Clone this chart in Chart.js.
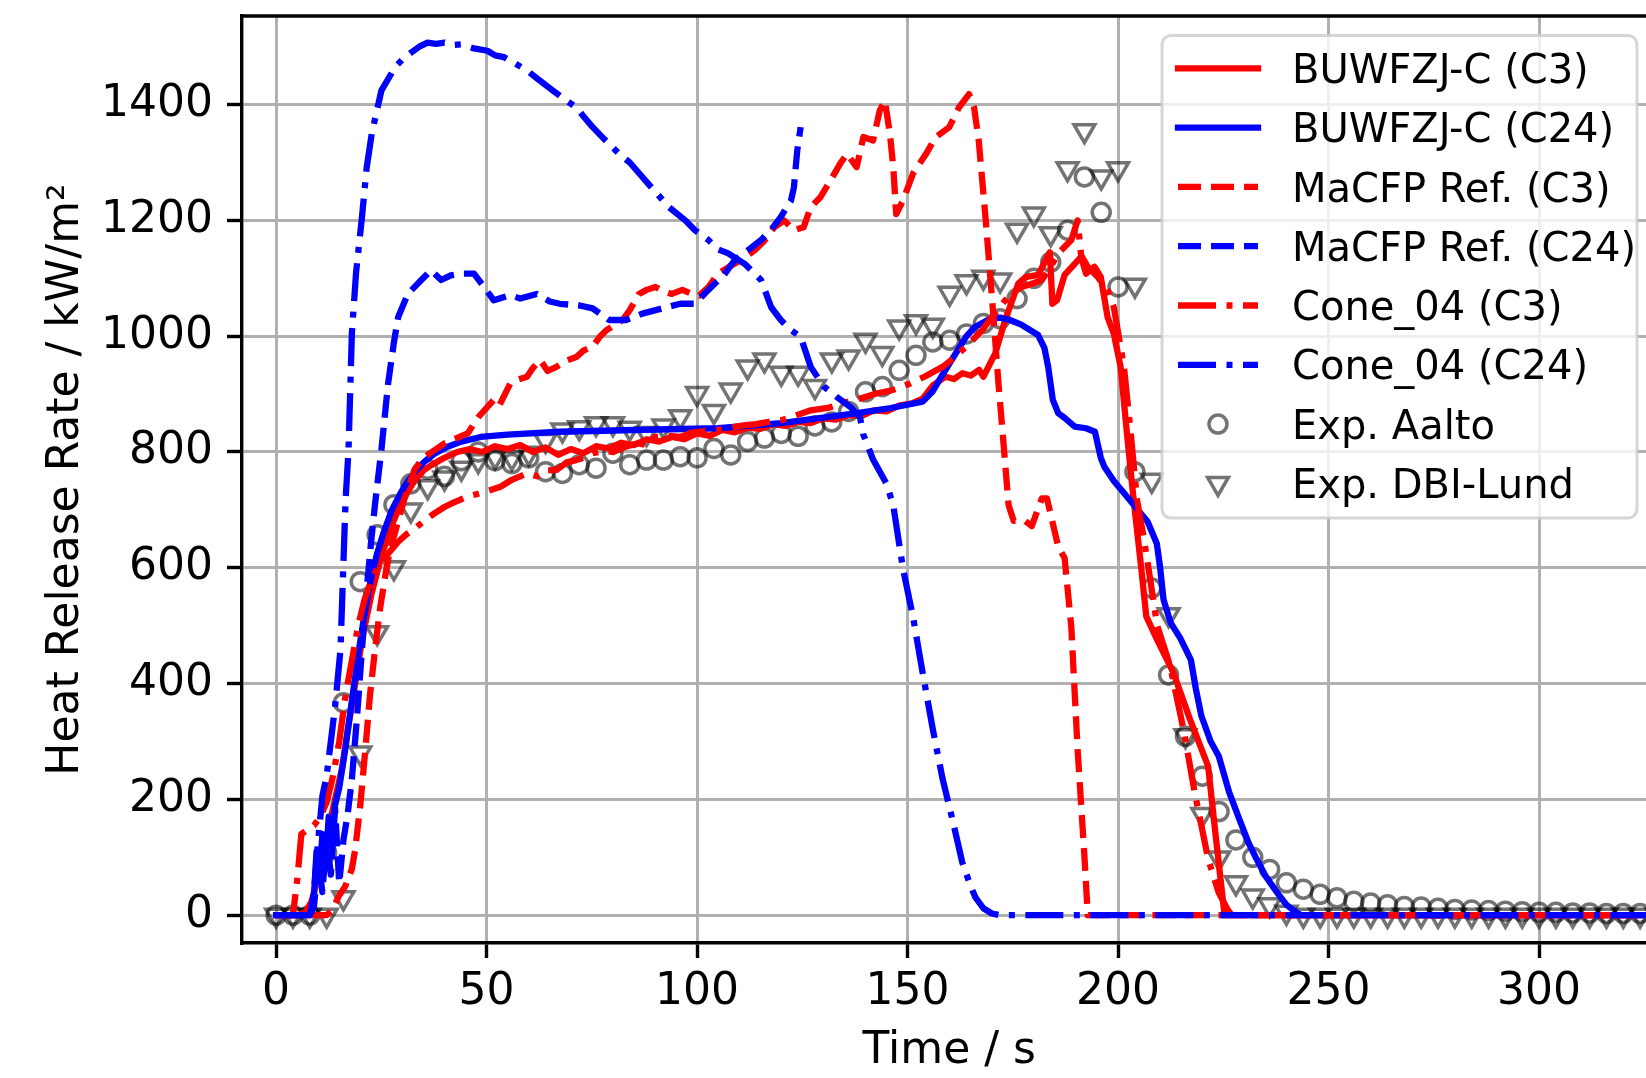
<!DOCTYPE html>
<html>
<head>
<meta charset="utf-8">
<title>Heat Release Rate</title>
<script src="https://cdn.jsdelivr.net/npm/chart.js@4.4.1/dist/chart.umd.min.js"></script>
<style>
  html, body { margin: 0; padding: 0; background: #fff; overflow: hidden; width: 1646px; height: 1078px; }
  canvas { display: block; }
</style>
</head>
<body>
<canvas id="chart" width="1672" height="1078" style="width:1672px;height:1078px"></canvas>
<script>
const xTicks = [0, 50, 100, 150, 200, 250, 300]
const yTicks = [0, 200, 400, 600, 800, 1000, 1200, 1400]

// [time / s, HRR / kW/m2]
const buwfzjC3 = [[0,0],[5,0],[7,5],[8.5,25],[10,70],[11,100],[12.5,150],[14,200],[15.7,255],[17,320],[18.8,400],[20.5,480],[22.7,556],[25,620],[27,665],[29,700],[31,728],[33,752],[35,768],[37,778],[40,790],[43,800],[46,805],[49,800],[52,810],[55,805],[58,812],[61,800],[64,808],[67,795],[70,805],[73,798],[76,810],[79,806],[82,816],[85,812],[88,822],[91,818],[94,826],[97,822],[100,832],[103,828],[106,838],[109,834],[112,842],[115,840],[118,848],[121,845],[124,852],[127,850],[130,858],[133,856],[136,864],[139,862],[142,872],[145,870],[148,880],[151,884],[153.6,892],[156,915],[159,930],[161,926],[163,936],[165,932],[167,942],[168,930],[170.8,970],[173.2,1028],[176.3,1091],[178,1102],[181,1106],[182.6,1128],[183.8,1145],[184.4,1056],[185.5,1062],[187.3,1106],[189.7,1125],[191.2,1137],[192.4,1108],[194.4,1120],[195.9,1102],[197.5,1033],[199,1004],[200.6,947],[202.1,833],[203.7,717],[205.5,600],[206.7,516],[209,480],[213.2,418],[217,340],[221.4,257],[223.1,143],[224.7,39],[225.3,0],[340,0]]

const buwfzjC24 = [[0,0],[8,0],[9,35],[9.6,110],[10.3,60],[11,140],[11.7,80],[12.5,170],[13.2,120],[14,190],[15,220],[16.5,290],[18,370],[19.5,450],[21,520],[22.5,580],[24,625],[25.5,660],[27.5,700],[29.5,728],[31.3,750],[33.5,770],[35.5,785],[37.6,797],[40.7,809],[44,818],[48.6,826],[55,830],[67.4,835],[85,838],[105,841],[120,850],[138,867],[146,876],[153.6,887],[156,905],[158,930],[161.4,970],[164,1000],[166,1016],[169.6,1030],[172,1032],[174.3,1028],[177,1020],[181,1002],[182.5,980],[183.4,947],[184.5,890],[185.8,867],[187.3,859],[189.7,844],[192.4,841],[194.5,835],[195.9,790],[196.7,775],[199,750],[201.4,729],[203.8,708],[207,680],[209.2,642],[210,600],[210.8,545],[212.5,505],[214.8,478],[217.3,441],[218.5,390],[219.8,344],[222,300],[223.9,275],[226.4,212],[228.8,166],[231,125],[232.9,97],[235,68],[237.8,39],[240,18],[241.9,7],[243.5,0],[340,0]]

const macfpC3 = [[0,0],[12,0],[13.5,10],[14.9,33],[16.5,51],[18,80],[18.8,114],[20,190],[21.2,286],[22.3,380],[23.5,459],[24.7,530],[25.9,585],[27,630],[28.2,660],[30.5,720],[32.9,770],[35,790],[37.6,803],[40,815],[42.3,822],[45.5,832],[48,860],[51.7,890],[53,880],[55.6,918],[57.5,925],[59.6,930],[61,945],[62.7,959],[64.5,940],[66.6,947],[69,958],[71.3,964],[73,975],[75.2,982],[77,1000],[78.4,1010],[80.5,1020],[82.3,1028],[84,1045],[86.2,1073],[88,1080],[90.1,1085],[92,1078],[94,1073],[96.5,1080],[98.8,1073],[100.5,1070],[102.7,1085],[105,1108],[107.4,1119],[110,1130],[113.6,1148],[116,1165],[118.3,1188],[120.7,1200],[122,1190],[123,1183],[125.3,1188],[127,1223],[129.3,1240],[131.7,1269],[134,1298],[135.6,1315],[137.9,1292],[139.5,1344],[141.8,1338],[143.4,1390],[144.6,1407],[145.8,1350],[146.6,1292],[147.3,1211],[148.9,1234],[151.3,1281],[154.4,1315],[156.7,1344],[159.9,1361],[162.2,1395],[164.6,1418],[165.8,1395],[166.9,1338],[168.5,1206],[170.1,1062],[171.6,918],[172.4,849],[174,708],[175.2,681],[177.9,681],[179.5,672],[181.9,720],[183.1,720],[185.8,636],[187.3,617],[188.9,497],[190.4,285],[192,103],[192.8,0],[340,0]]

const macfpC24 = [[0,0],[8,0],[9,15],[10,95],[11,40],[12,135],[13,70],[14,185],[15,55],[16,130],[17,175],[18,235],[19.2,340],[20.4,459],[21.5,560],[22.5,640],[23.5,710],[25,803],[26.6,918],[28,990],[29,1033],[31.3,1073],[34.5,1097],[36.8,1114],[39.2,1097],[41.5,1105],[43.9,1108],[47,1108],[49.4,1085],[51.7,1062],[55.6,1071],[58,1065],[61.9,1073],[65,1060],[67.4,1056],[72.1,1053],[75.2,1048],[79.1,1028],[83.1,1028],[87,1039],[93.3,1051],[96,1056],[99.5,1056],[102,1075],[106.6,1108],[108.9,1131],[112,1148],[115.2,1166],[117.5,1183],[119.9,1206],[122.3,1234],[123,1257],[123.8,1321],[124.6,1361]]

const cone04C3 = [[0,0],[4,0],[5,60],[6,140],[7.5,148],[9,155],[10.5,170],[12,195],[13.5,240],[15,300],[16.5,380],[18,440],[19.5,500],[21,545],[23,585],[25,610],[27,628],[29,645],[31,658],[33,668],[35,680],[37.6,694],[40,705],[42,712],[45.4,723],[48,728],[50,732],[53.3,740],[56,752],[59.6,763],[62,758],[64,768],[66.6,769],[69,782],[71.3,786],[73,790],[75.2,798],[78,802],[80,800],[83,809],[86,815],[88,812],[90,826],[93,828],[96,826],[99,834],[102,836],[105,838],[108,842],[111,846],[114,848],[117,852],[120,855],[123,862],[127,872],[131,876],[135,885],[139,893],[142.6,901],[146,906],[150.5,918],[154,930],[158.3,947],[161,962],[164.6,987],[167.7,1010],[170,1033],[173.2,1062],[175,1075],[177.1,1085],[180,1092],[181.9,1097],[184,1120],[185.8,1143],[188.9,1166],[190.4,1200],[191.2,1140],[192.8,1120],[195.2,1102],[197.5,1079],[199,1050],[201.4,947],[203,833],[204.5,717],[205.9,660],[207,610],[209.3,500],[212.4,430],[215.7,315],[218.2,212],[221.4,97],[223.9,39],[226,10],[227,0],[340,0]]

const cone04C24 = [[0,0],[8,0],[9,40],[10,130],[11,206],[12,240],[13,300],[14,360],[15.3,459],[16.5,717],[17.2,803],[18,1005],[19,1110],[20.4,1206],[21.5,1290],[22.7,1349],[25,1424],[28.2,1464],[30,1478],[32.1,1490],[34,1500],[36,1507],[38,1505],[40,1507],[42,1503],[43.9,1504],[47,1497],[50.2,1493],[52,1485],[54.1,1482],[57,1470],[59.6,1459],[62,1445],[65.8,1424],[68,1412],[71.3,1395],[73,1380],[75.2,1361],[78,1340],[81.5,1315],[84,1300],[87,1275],[90,1250],[93.3,1223],[97.2,1200],[99.5,1183],[102.7,1166],[105,1150],[107.4,1143],[111.3,1125],[115.2,1097],[117.6,1050],[119.9,1028],[122,1012],[124.6,999],[127,947],[130.1,913],[133.2,895],[136.4,878],[138.7,860],[139.5,830],[141.8,787],[145,745],[146.6,708],[148.9,599],[151.3,515],[153.6,418],[156,321],[158.3,236],[160.7,164],[163,91],[165,50],[166.1,31],[168,12],[170,3],[172,0],[340,0]]

// experiments share one time base
const expTime = [0,4,8,12,16,20,24,28,32,36,40,44,48,52,56,60,64,68,72,76,80,84,88,92,96,100,104,108,112,116,120,124,128,132,136,140,144,148,152,156,160,164,168,172,176,180,184,188,192,196,200,204,208,212,216,220,224,228,232,236,240,244,248,252,256,260,264,268,272,276,280,284,288,292,296,300,304,308,312,316,320,324,328]
const expAalto = [0,0,0,108,367,576,657,709,745,770,758,785,800,785,780,790,766,763,778,772,798,778,786,786,792,790,806,795,818,824,832,827,845,852,870,904,913,941,967,990,993,1004,1022,1030,1065,1100,1128,1183,1275,1214,1085,766,565,415,309,240,179,130,100,79,56,45,36,30,24,21,18,15,14,12,10,9,8,7,6,5,5,4,4,3,3,3,2]
const expDbiLund = [0,0,0,0,30,280,488,600,700,740,755,772,785,792,790,798,820,838,842,849,849,841,832,845,861,901,870,907,947,959,936,936,913,959,964,993,970,1016,1025,1019,1074,1094,1102,1097,1183,1211,1177,1289,1355,1275,1289,1088,751,519,310,174,99,56,33,18,5,0,0,0,0,0,0,0,0,0,0,0,0,0,0,0,0,0,0,0,0,0,0]

const font = 'DejaVu Sans'
const red = '#ff0000'
const blue = '#0000ff'
const lw = 6.3
const dashed = [23, 10]
const dashDot = [38, 10.5, 6, 10.5]
const markerColor = 'rgba(0,0,0,0.55)'

function lineSet(label, pts, color, dash, order) {
  return {
    label,
    data: pts.map(([x, y]) => ({ x, y })),
    borderColor: color,
    backgroundColor: color,
    borderWidth: lw,
    borderDash: dash,
    borderCapStyle: dash.length ? 'butt' : 'square',
    borderJoinStyle: 'round',
    pointRadius: 0,
    tension: 0,
    fill: false,
    order,
  }
}

function markerSet(label, values, style, radius, order) {
  return {
    label,
    data: expTime.map((x, i) => ({ x, y: values[i] })),
    showLine: false,
    pointStyle: style,
    pointRotation: style === 'triangle' ? 180 : 0,
    pointRadius: radius,
    pointBorderWidth: 3.5,
    pointBorderColor: markerColor,
    pointBackgroundColor: 'rgba(0,0,0,0)',
    borderColor: markerColor,
    order,
  }
}

const datasets = [
  lineSet('BUWFZJ-C (C3)', buwfzjC3, red, [], 6),
  lineSet('BUWFZJ-C (C24)', buwfzjC24, blue, [], 5),
  lineSet('MaCFP Ref. (C3)', macfpC3, red, dashed, 4),
  lineSet('MaCFP Ref. (C24)', macfpC24, blue, dashed, 3),
  lineSet('Cone_04 (C3)', cone04C3, red, dashDot, 2),
  lineSet('Cone_04 (C24)', cone04C24, blue, dashDot, 1),
  markerSet('Exp. Aalto', expAalto, 'circle', 9, 8),
  markerSet('Exp. DBI-Lund', expDbiLund, 'triangle', 12, 7),
]

// top and right spines
const frame = {
  id: 'frame',
  afterDatasetsDraw(chart) {
    const { ctx, chartArea: a } = chart
    ctx.save()
    ctx.strokeStyle = '#000'
    ctx.lineWidth = 3.4
    ctx.beginPath()
    ctx.moveTo(a.left - 1.7, a.top)
    ctx.lineTo(a.right, a.top)
    ctx.lineTo(a.right, a.bottom)
    ctx.stroke()
    ctx.restore()
  },
}

// legend box in the upper right corner of the axes
const boxLegend = {
  id: 'boxLegend',
  afterDraw(chart) {
    const { ctx, chartArea: a } = chart
    const left = 1162
    const top = a.top + 19.5
    const right = a.right - 19.5
    const bottom = 518
    const r = 9
    ctx.save()
    ctx.beginPath()
    ctx.roundRect(left, top, right - left, bottom - top, r)
    ctx.fillStyle = 'rgba(255,255,255,0.8)'
    ctx.fill()
    ctx.strokeStyle = 'rgba(204,204,204,0.8)'
    ctx.lineWidth = 3
    ctx.stroke()

    const rowH = 59.3
    const hx0 = 1178
    const hx1 = 1258
    const textX = 1292
    ctx.font = `40px "${font}"`
    ctx.textBaseline = 'alphabetic'
    ctx.textAlign = 'left'
    chart.data.datasets.forEach((ds, i) => {
      const y = 68.3 + i * rowH
      if (ds.showLine === false) {
        const cx = (hx0 + hx1) / 2
        ctx.strokeStyle = ds.pointBorderColor
        ctx.lineWidth = ds.pointBorderWidth
        ctx.setLineDash([])
        ctx.beginPath()
        if (ds.pointStyle === 'circle') {
          ctx.arc(cx, y, ds.pointRadius, 0, Math.PI * 2)
        } else {
          const rr = ds.pointRadius
          ctx.moveTo(cx, y + rr)
          ctx.lineTo(cx - rr * Math.sin(Math.PI / 3), y - rr / 2)
          ctx.lineTo(cx + rr * Math.sin(Math.PI / 3), y - rr / 2)
          ctx.closePath()
        }
        ctx.stroke()
      } else {
        ctx.strokeStyle = ds.borderColor
        ctx.lineWidth = ds.borderWidth
        ctx.lineCap = ds.borderCapStyle
        ctx.setLineDash(ds.borderDash)
        ctx.beginPath()
        ctx.moveTo(hx0, y)
        ctx.lineTo(hx1, y)
        ctx.stroke()
      }
      ctx.setLineDash([])
      ctx.fillStyle = '#000'
      ctx.fillText(ds.label, textX, y + 14.6)
    })
    ctx.restore()
  },
}

const tickFont = { family: font, size: 44 }

new Chart(document.getElementById('chart'), {
  type: 'line',
  data: { datasets },
  options: {
    responsive: false,
    animation: false,
    devicePixelRatio: 1,
    layout: { padding: { top: 16, right: 1, left: 0, bottom: 0 } },
    plugins: { legend: { display: false }, tooltip: { enabled: false } },
    scales: {
      x: {
        type: 'linear',
        min: -8.1,
        max: 327.9,
        afterBuildTicks: (axis) => { axis.ticks = xTicks.map((value) => ({ value })) },
        afterFit: (axis) => { axis.height = 135; axis.paddingLeft = 0; axis.paddingRight = 0 },
        ticks: { color: '#000', font: tickFont, padding: 8, maxRotation: 0, autoSkip: false, callback: (v) => String(v) },
        grid: { color: '#b0b0b0', lineWidth: 3, tickColor: '#000', tickWidth: 3.4, tickLength: 15 },
        border: { color: '#000', width: 3.4 },
        title: { display: true, text: 'Time / s', color: '#000', font: tickFont, padding: { top: 0, bottom: 0 } },
      },
      y: {
        type: 'linear',
        min: -48,
        max: 1553,
        afterBuildTicks: (axis) => { axis.ticks = yTicks.map((value) => ({ value })) },
        afterFit: (axis) => { axis.width = 242; axis.paddingTop = 0; axis.paddingBottom = 0 },
        ticks: { color: '#000', font: tickFont, padding: 14, autoSkip: false, callback: (v) => String(v) },
        grid: { color: '#b0b0b0', lineWidth: 3, tickColor: '#000', tickWidth: 3.4, tickLength: 15 },
        border: { color: '#000', width: 3.4 },
        title: { display: true, text: 'Heat Release Rate / kW/m²', color: '#000', font: tickFont, padding: { top: 40, bottom: 0 } },
      },
    },
  },
  plugins: [frame, boxLegend],
})
</script>
</body>
</html>
